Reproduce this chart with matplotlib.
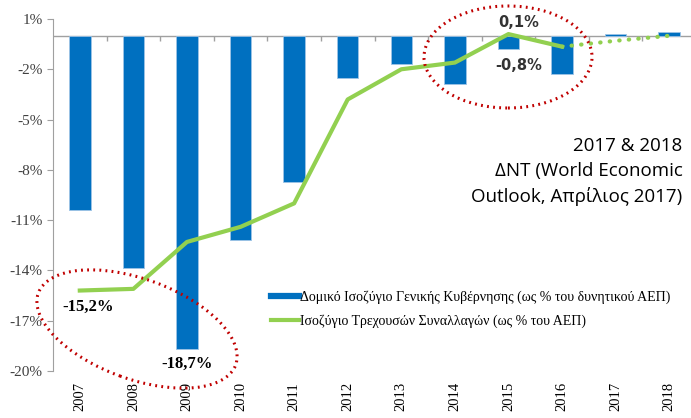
import numpy as np
import matplotlib.pyplot as plt
from matplotlib.patches import Ellipse
from matplotlib.lines import Line2D
from matplotlib.transforms import IdentityTransform

years = ["2007", "2008", "2009", "2010", "2011", "2012", "2013", "2014", "2015", "2016", "2017", "2018"]
structural = [-10.4, -13.85, -18.7, -12.2, -8.7, -2.5, -1.7, -2.9, -0.8, -2.3, 0.1, 0.2]
current_acc = [-15.2, -15.1, -12.3, -11.4, -10.0, -3.8, -2.0, -1.6, 0.1, -0.65]
current_fc = [-0.65, -0.3, 0.0]   # 2016 -> 2018 forecast (dotted)
yticks = [1, -2, -5, -8, -11, -14, -17, -20]
labels = ["Δομικό Ισοζύγιο Γενικής Κυβέρνησης (ως % του δυνητικού ΑΕΠ)",
          "Ισοζύγιο Τρεχουσών Συναλλαγών (ως % του ΑΕΠ)"]

blue = "#0070C0"
green = "#92D050"
red = "#C00000"
serif = "Liberation Serif"

fig = plt.figure(figsize=(6.91, 4.18), dpi=100)
ax = fig.add_axes([53/691, 47/418, 643/691, 352/418])

x = np.arange(len(years))
ax.bar(x, structural, width=0.4, color=blue, edgecolor="#9dc3e6", linewidth=0.6, zorder=2)
ax.plot(x[:len(current_acc)], current_acc, color=green, lw=3, zorder=3)
ax.plot(x[9:12], current_fc, color=green, lw=3, ls=(0, (0.1, 2.2)),
        dash_capstyle="round", zorder=3)

ax.set_xlim(-0.5, 11.5)
ax.set_ylim(-20, 1)
ax.set_yticks(yticks)
ax.set_yticklabels([f"{v}%" for v in yticks], family=serif, fontsize=11, color="#404040")
ax.set_xticks(x)
ax.set_xticklabels(years, rotation=90, family=serif, fontsize=10.5)
ax.tick_params(axis="x", length=0, pad=8)
ax.tick_params(axis="y", length=4, color="#a0a0a0")

for s in ["top", "right", "bottom"]:
    ax.spines[s].set_visible(False)
ax.spines["left"].set_color("#a0a0a0")
ax.axhline(0, color="#a0a0a0", lw=1, zorder=1)
ax.vlines(np.arange(0.5, 11.5, 1), -0.3, 0, color="#a0a0a0", lw=1, zorder=1)

# value labels
ax.text(0.16, -16.2, "-15,2%", ha="center", va="center", family=serif, weight="bold", fontsize=12)
ax.text(2.0, -19.6, "-18,7%", ha="center", va="center", family=serif, weight="bold", fontsize=12)
ax.text(8.2, 0.8, "0,1%", ha="center", va="center", weight="bold", fontsize=10.5, color="#333333")
ax.text(8.2, -1.75, "-0,8%", ha="center", va="center", weight="bold", fontsize=10.5, color="#333333")

ax.text(11.25, -8.1, "2017 & 2018\nΔΝΤ (World Economic\nOutlook, Απρίλιος 2017)", ha="right", va="center",
        family="Open Sans", fontsize=13.5, linespacing=1.5)

# dotted ellipses (pixel coordinates)
fig.add_artist(Ellipse((137, 418-329), 210, 100, angle=-20, transform=IdentityTransform(),
                       fill=False, ec=red, lw=2.2, ls=(0, (0.6, 1.4))))
fig.add_artist(Ellipse((508, 418-57), 168, 102, angle=0, transform=IdentityTransform(),
                       fill=False, ec=red, lw=2.2, ls=(0, (0.6, 1.4))))

handles = [Line2D([], [], color=blue, lw=4.5), Line2D([], [], color=green, lw=3)]
ax.legend(handles, labels, loc="upper left", bbox_to_anchor=(0.33, 0.245), frameon=False,
          prop={"family": serif, "size": 10}, handlelength=2.0, handletextpad=0.1,
          labelspacing=0.8, borderaxespad=0)

fig.savefig("out.png", dpi=100)
